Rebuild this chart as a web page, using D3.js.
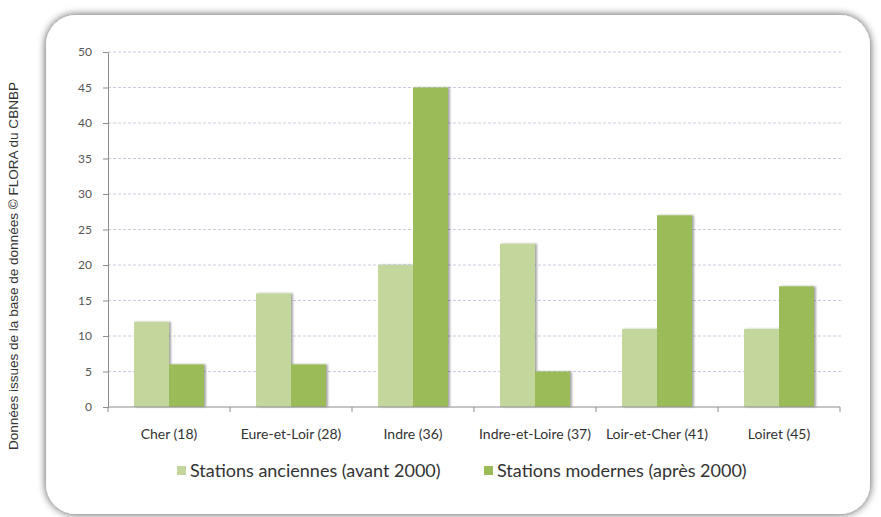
<!DOCTYPE html>
<html><head><meta charset="utf-8">
<script src="https://cdn.jsdelivr.net/npm/d3@7"></script>
<style>body{margin:0;background:#fff;} svg{display:block;}</style>
</head><body>
<svg id="c" width="881" height="517"></svg>
<script>
const categories = ["Cher (18)", "Eure-et-Loir (28)", "Indre (36)", "Indre-et-Loire (37)", "Loir-et-Cher (41)", "Loiret (45)"];
const seriesNames = ["Stations anciennes (avant 2000)", "Stations modernes (après 2000)"];
const anciennes = [12, 16, 20, 23, 11, 11];
const modernes = [6, 6, 45, 5, 27, 17];
const yTicks = [0, 5, 10, 15, 20, 25, 30, 35, 40, 45, 50];
const colors = ["#c3d69b", "#9bbb59"];

const svg = d3.select("#c");
const defs = svg.append("defs");
const f = defs.append("filter").attr("id","sh").attr("x","-10%").attr("y","-10%").attr("width","120%").attr("height","120%");
f.append("feGaussianBlur").attr("in","SourceAlpha").attr("stdDeviation",4).attr("result","b");
f.append("feOffset").attr("in","b").attr("dx",0).attr("dy",0).attr("result","o");
f.append("feComponentTransfer").append("feFuncA").attr("type","linear").attr("slope",0.7);
const m = f.append("feMerge"); m.append("feMergeNode"); m.append("feMergeNode").attr("in","SourceGraphic");

const bf = defs.append("filter").attr("id","bs").attr("x","-20%").attr("y","-5%").attr("width","150%").attr("height","110%");
bf.append("feOffset").attr("in","SourceAlpha").attr("dx",2).attr("dy",0).attr("result","o");
bf.append("feGaussianBlur").attr("in","o").attr("stdDeviation",1).attr("result","b");
bf.append("feComponentTransfer").attr("in","b").attr("result","c").append("feFuncA").attr("type","linear").attr("slope",0.35);
const bm = bf.append("feMerge"); bm.append("feMergeNode").attr("in","c"); bm.append("feMergeNode").attr("in","SourceGraphic");

// panel
svg.append("rect").attr("x",46).attr("y",15).attr("width",824).attr("height",499)
  .attr("rx",30).attr("ry",30).attr("fill","#fff").attr("filter","url(#sh)");

const x0 = 108, x1 = 840, yTop = 52, yBot = 407;
const x = d3.scaleBand().domain(categories).range([x0, x1]);
const y = d3.scaleLinear().domain([0, 50]).range([yBot, yTop]);
const xs = d3.scaleBand().domain([0,1]).range([0, 70]);

// gridlines
svg.append("g").selectAll("line").data(yTicks.filter(t=>t>0)).join("line")
  .attr("x1", x0).attr("x2", x1+2).attr("y1", d=>y(d)).attr("y2", d=>y(d))
  .attr("stroke","#c8cbe0").attr("stroke-width",1).attr("stroke-dasharray","3,2");

// bars
const g = svg.append("g");
categories.forEach((c, i) => {
  const base = x(c) + (x.bandwidth() - 70) / 2;
  [anciennes[i], modernes[i]].forEach((v, j) => {
    g.append("rect").attr("x", base + xs(j)).attr("y", y(v))
      .attr("width", xs.bandwidth()).attr("height", yBot - y(v))
      .attr("fill", colors[j]).attr("filter","url(#bs)");
  });
});

// y axis
const ya = d3.axisLeft(y).tickValues(yTicks).tickSize(5).tickPadding(11);
const yg = svg.append("g").attr("transform", `translate(${x0},0)`).call(ya);
yg.select(".domain").attr("stroke","#8c8c8c");
yg.selectAll(".tick line").attr("stroke","#8c8c8c");
yg.selectAll("text").attr("fill","#555").attr("font-family","Lato, 'Open Sans', sans-serif").attr("font-size",12);

// x axis
const xa = d3.axisBottom(x).tickSize(0).tickPadding(22);
const xg = svg.append("g").attr("transform", `translate(0,${yBot})`).call(xa);
xg.select(".domain").attr("stroke","#8c8c8c").attr("d", `M${x0},0H${x1}`);
xg.selectAll("text").attr("fill","#333").attr("font-family","Lato, 'Open Sans', sans-serif").attr("font-size",14);
xg.selectAll(".btick").data(d3.range(7)).join("line").attr("class","btick")
  .attr("x1", i => x0 + i * x.step()).attr("x2", i => x0 + i * x.step())
  .attr("y1", 0).attr("y2", 5).attr("stroke","#8c8c8c");

// legend
const leg = [{x:177, t: seriesNames[0], c: colors[0]}, {x:484, t: seriesNames[1], c: colors[1]}];
leg.forEach(l => {
  svg.append("rect").attr("x", l.x).attr("y", 466).attr("width", 9).attr("height", 9).attr("fill", l.c);
  svg.append("text").attr("x", l.x + 13).attr("y", 477).text(l.t)
    .attr("font-family","Lato, 'Open Sans', sans-serif").attr("font-size",18).attr("fill","#333");
});

// side credit
svg.append("text").attr("transform","translate(18,266) rotate(-90)").attr("text-anchor","middle")
  .attr("font-family","'Liberation Sans', sans-serif").attr("font-size",12).attr("fill","#333")
  .attr("textLength",368).attr("lengthAdjust","spacingAndGlyphs")
  .text("Données issues de la base de données © FLORA du CBNBP");
</script>
</body></html>
